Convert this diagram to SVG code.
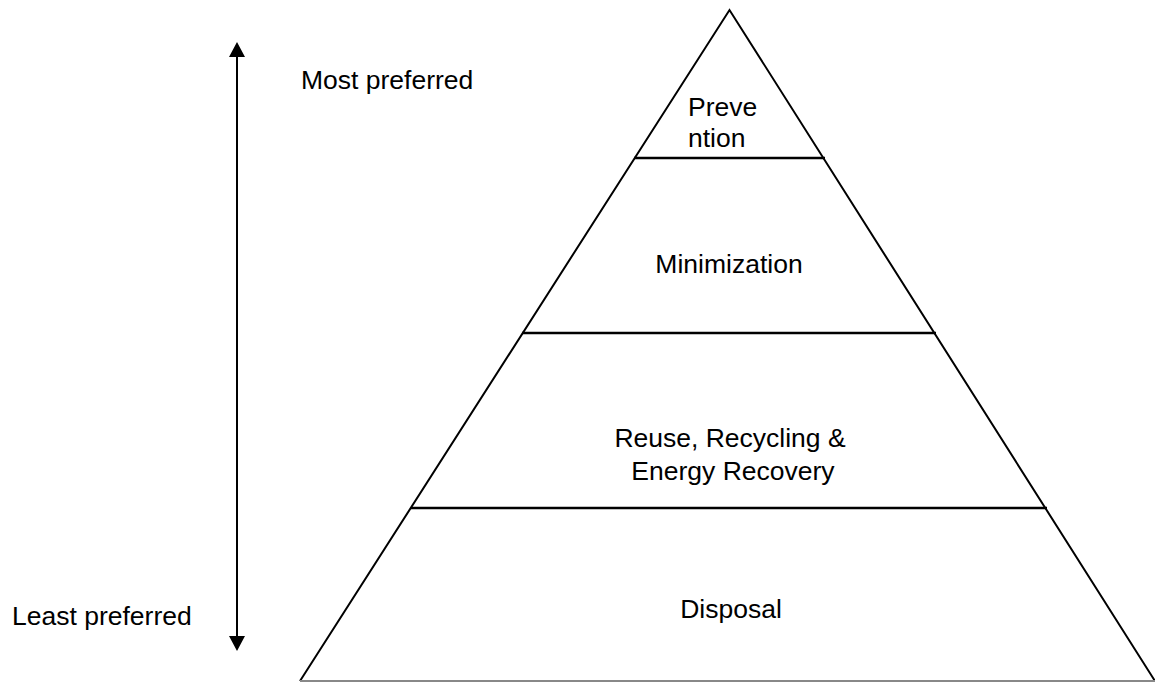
<svg xmlns="http://www.w3.org/2000/svg" width="1155" height="682" viewBox="0 0 1155 682">
<style>
.ln{stroke:#000;stroke-width:2;fill:none}
.hl{stroke:#000;stroke-width:2.5;fill:none}
.t{font-family:"Liberation Sans",Arial,sans-serif;font-size:26.5px;fill:#000}
.c{text-anchor:middle}
</style>
<rect width="1155" height="682" fill="#fff"/>
<g id="pyramid">
<polyline class="ln" points="300,681 729.5,10 1155,681"/>
<line x1="300" y1="681" x2="1155" y2="681" stroke="#888" stroke-width="2"/>
</g>
<g id="prevention">
<line class="hl" x1="634" y1="158" x2="825" y2="158"/>
<text class="t" x="688" y="116">Preve</text>
<text class="t" x="688" y="147">ntion</text>
</g>
<g id="minimization">
<line class="hl" x1="522" y1="333" x2="936" y2="333"/>
<text class="t c" x="729" y="273">Minimization</text>
</g>
<g id="reuse">
<line class="hl" x1="411" y1="508" x2="1047" y2="508"/>
<text class="t c" x="730" y="447">Reuse, Recycling &amp;</text>
<text class="t c" x="733" y="480">Energy Recovery</text>
</g>
<g id="disposal">
<text class="t c" x="731" y="618">Disposal</text>
</g>
<g id="connectors">
<line x1="237" y1="57" x2="237" y2="636" stroke="#000" stroke-width="2"/>
<path d="M237,42 L229,57 L245,57 z M237,651 L229,636 L245,636 z" fill="#000"/>
</g>
<g id="labels">
<text class="t" x="301" y="89">Most preferred</text>
<text class="t" x="12" y="625">Least preferred</text>
</g>
</svg>
